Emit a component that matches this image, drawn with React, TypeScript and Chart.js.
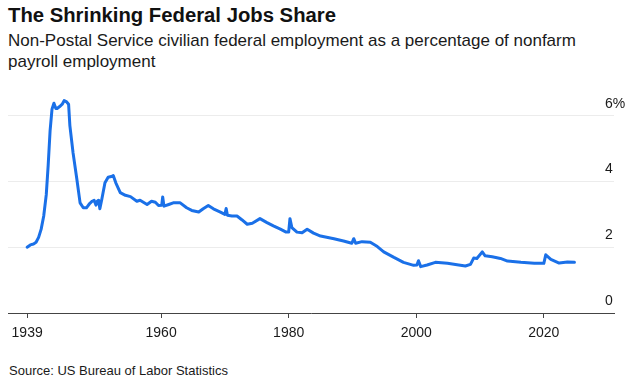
import React, { useEffect, useRef } from "react";
import { Chart, registerables } from "chart.js";

Chart.register(...registerables);

const years: number[] = [
  1939.0, 1939.5, 1940.0, 1940.4, 1940.8, 1941.2, 1941.6, 1942.0, 1942.3, 1942.6,
  1942.9, 1943.2, 1943.5, 1943.7, 1944.1, 1944.5, 1944.8, 1945.2, 1945.5, 1945.7,
  1946.2, 1946.8, 1947.3, 1947.8, 1948.3, 1948.8, 1949.2, 1949.5, 1949.8, 1950.0,
  1950.2, 1950.4, 1950.7, 1951.2, 1951.7, 1952.2, 1952.5, 1952.9, 1953.6, 1954.4,
  1955.2, 1956.2, 1956.7, 1957.8, 1958.5, 1959.1, 1959.6, 1960.1, 1960.25, 1960.45,
  1961.2, 1961.9, 1963.0, 1964.0, 1964.8, 1965.9, 1966.6, 1967.4, 1968.2, 1969.3,
  1970.0, 1970.2, 1970.4, 1971.1, 1971.9, 1972.7, 1973.5, 1974.3, 1975.5, 1976.6,
  1977.6, 1978.7, 1979.6, 1980.0, 1980.2, 1980.5, 1981.3, 1982.1, 1982.9, 1983.9,
  1985.0, 1987.1, 1988.6, 1989.9, 1990.2, 1990.5, 1991.5, 1992.8, 1993.9, 1994.9,
  1996.5, 1998.0, 1999.6, 2000.1, 2000.35, 2000.7, 2001.7, 2003.0, 2004.9, 2006.4,
  2007.7, 2008.5, 2009.0, 2009.5, 2010.35, 2010.8, 2011.9, 2013.2, 2014.3, 2016.4,
  2018.5, 2020.0, 2020.3, 2021.1, 2022.4, 2023.7, 2024.8,
];

const share: number[] = [
  2.0, 2.07, 2.1, 2.15, 2.3, 2.55, 2.95, 3.6, 4.5, 5.55,
  6.2, 6.38, 6.22, 6.22, 6.28, 6.35, 6.46, 6.42, 6.35, 5.7,
  4.87, 4.06, 3.35, 3.2, 3.2, 3.33, 3.4, 3.43, 3.28, 3.4,
  3.43, 3.17, 3.45, 3.96, 4.13, 4.15, 4.18, 3.96, 3.66, 3.58,
  3.54, 3.4, 3.43, 3.3, 3.4, 3.37, 3.27, 3.28, 3.53, 3.25,
  3.3, 3.35, 3.35, 3.2, 3.12, 3.07, 3.17, 3.27, 3.17, 3.07,
  3.0, 3.18, 2.97, 2.95, 2.95, 2.83, 2.7, 2.73, 2.87, 2.75,
  2.65, 2.55, 2.46, 2.46, 2.87, 2.6, 2.46, 2.44, 2.55, 2.43,
  2.34, 2.26, 2.19, 2.12, 2.26, 2.12, 2.17, 2.15, 2.02, 1.86,
  1.69, 1.54, 1.45, 1.46, 1.59, 1.41, 1.46, 1.54, 1.51, 1.47,
  1.43, 1.48, 1.67, 1.66, 1.86, 1.74, 1.71, 1.66, 1.58, 1.54,
  1.51, 1.51, 1.77, 1.63, 1.52, 1.55, 1.54,
];

const xTicks: number[] = [1939, 1960, 1980, 2000, 2020];
const yTicks: number[] = [0, 2, 4, 6];

const FONT = "'Liberation Sans', Arial, Helvetica, sans-serif";

const yLabelPlugin = {
  id: "yLabelPlugin",
  afterDraw(chart: any) {
    const scale = chart.scales.y;
    const ctx = chart.ctx;
    ctx.save();
    ctx.font = `14px ${FONT}`;
    ctx.fillStyle = "#1a1a1a";
    ctx.textAlign = "left";
    ctx.textBaseline = "alphabetic";
    yTicks.forEach((v) => {
      const py = scale.getPixelForValue(v);
      const label = v === 6 ? "6%" : String(v);
      ctx.fillText(label, 605, py - 8);
    });
    ctx.restore();
  },
};

export default function App() {
  const ref = useRef<HTMLCanvasElement | null>(null);

  useEffect(() => {
    if (!ref.current) return;
    const chart = new Chart(ref.current, {
      type: "line",
      data: {
        datasets: [
          {
            data: years.map((x, i) => ({ x, y: share[i] })),
            borderColor: "#1a70e8",
            borderWidth: 3,
            borderJoinStyle: "round",
            borderCapStyle: "round",
            pointRadius: 0,
            tension: 0,
            fill: false,
          },
        ],
      },
      options: {
        animation: false,
        responsive: false,
        maintainAspectRatio: false,
        layout: { padding: { top: 16, left: 8, right: 0, bottom: 0 } },
        plugins: { legend: { display: false }, tooltip: { enabled: false } },
        scales: {
          x: {
            type: "linear",
            min: 1936,
            max: 2031,
            afterBuildTicks: (s: any) => {
              s.ticks = xTicks.map((v) => ({ value: v }));
            },
            afterFit: (s: any) => {
              s.height = 47;
            },
            grid: {
              display: true,
              drawOnChartArea: false,
              drawTicks: true,
              tickLength: 5,
              color: "#444",
            },
            border: { display: true, color: "#444", width: 1 },
            ticks: {
              autoSkip: false,
              maxRotation: 0,
              padding: 7,
              color: "#1a1a1a",
              font: { family: FONT, size: 14 },
              callback: (v: any) => String(v),
            },
          },
          y: {
            position: "right",
            min: 0,
            max: 6.6,
            afterBuildTicks: (s: any) => {
              s.ticks = yTicks.map((v) => ({ value: v }));
            },
            afterFit: (s: any) => {
              s.width = 20;
            },
            grid: { color: "#ececec", drawTicks: false, lineWidth: 1 },
            border: { display: false },
            ticks: { display: false },
          },
        },
      },
      plugins: [yLabelPlugin],
    });
    return () => chart.destroy();
  }, []);

  return (
    <div
      style={{
        position: "fixed",
        left: 0,
        top: 0,
        width: 634,
        height: 391,
        background: "#fff",
        fontFamily: FONT,
        color: "#111",
        overflow: "hidden",
      }}
    >
      <div
        style={{
          position: "absolute",
          left: 8,
          top: 3,
          fontSize: 20.3,
          fontWeight: 700,
          lineHeight: "24px",
          whiteSpace: "nowrap",
        }}
      >
        The Shrinking Federal Jobs Share
      </div>
      <div
        style={{
          position: "absolute",
          left: 8,
          top: 30,
          fontSize: 17,
          lineHeight: "21px",
          whiteSpace: "nowrap",
          color: "#1a1a1a",
        }}
      >
        Non-Postal Service civilian federal employment as a percentage of nonfarm
        <br />
        payroll employment
      </div>
      <canvas
        ref={ref}
        width={634}
        height={280}
        style={{ position: "absolute", left: 0, top: 80, width: 634, height: 280 }}
      />
      <div
        style={{
          position: "absolute",
          left: 9,
          top: 363,
          fontSize: 13,
          lineHeight: "16px",
          whiteSpace: "nowrap",
          color: "#1a1a1a",
        }}
      >
        Source: US Bureau of Labor Statistics
      </div>
    </div>
  );
}
